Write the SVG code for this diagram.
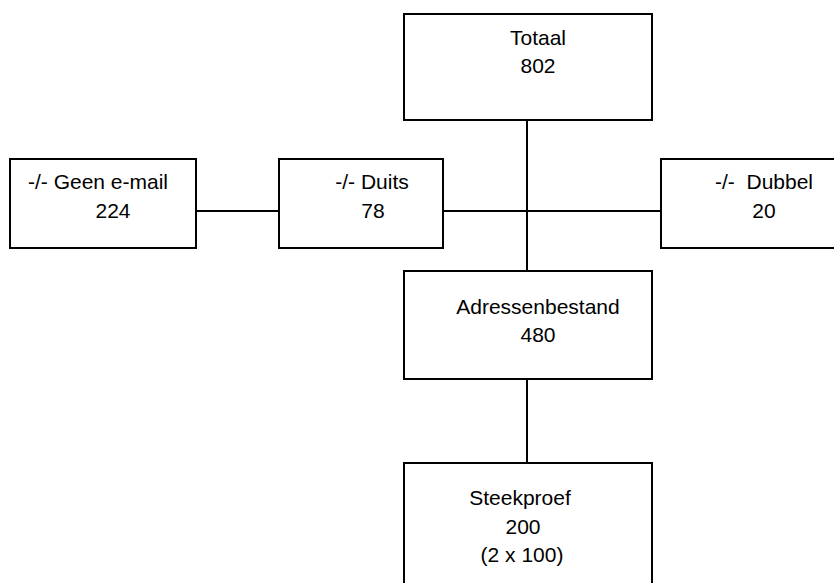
<svg xmlns="http://www.w3.org/2000/svg" width="834" height="583" viewBox="0 0 834 583">
<style>
.box{fill:#fff;stroke:#000;stroke-width:2}
.ln{stroke:#000;stroke-width:2;fill:none}
text{font-family:"Liberation Sans",Arial,sans-serif;font-size:21px;fill:#000}
.c{text-anchor:middle}
</style>
<rect width="834" height="583" fill="#fff"/>
<g id="connectors">
<line class="ln" x1="527" y1="120" x2="527" y2="271"/>
<line class="ln" x1="196" y1="211" x2="279" y2="211"/>
<line class="ln" x1="443" y1="211" x2="661" y2="211"/>
<line class="ln" x1="527" y1="379" x2="527" y2="463"/>
</g>
<g id="totaal">
<rect class="box" x="404" y="14" width="248" height="106"/>
<text class="c" x="538" y="45">Totaal</text>
<text class="c" x="538" y="73">802</text>
</g>
<g id="geen-email">
<rect class="box" x="10" y="159" width="186" height="89"/>
<text x="28" y="189">-/- Geen e-mail</text>
<text class="c" x="113" y="218">224</text>
</g>
<g id="duits">
<rect class="box" x="279" y="159" width="164" height="89"/>
<text class="c" x="372" y="189">-/- Duits</text>
<text class="c" x="373" y="218">78</text>
</g>
<g id="dubbel">
<rect class="box" x="661" y="159" width="190" height="89"/>
<text x="715" y="189" xml:space="preserve">-/-  Dubbel</text>
<text class="c" x="764" y="218">20</text>
</g>
<g id="adressenbestand">
<rect class="box" x="404" y="271" width="248" height="108"/>
<text class="c" x="538" y="314">Adressenbestand</text>
<text class="c" x="538" y="342">480</text>
</g>
<g id="steekproef">
<rect class="box" x="404" y="463" width="248" height="140"/>
<text class="c" x="520" y="505">Steekproef</text>
<text class="c" x="523" y="534">200</text>
<text class="c" x="522" y="562">(2 x 100)</text>
</g>
</svg>
